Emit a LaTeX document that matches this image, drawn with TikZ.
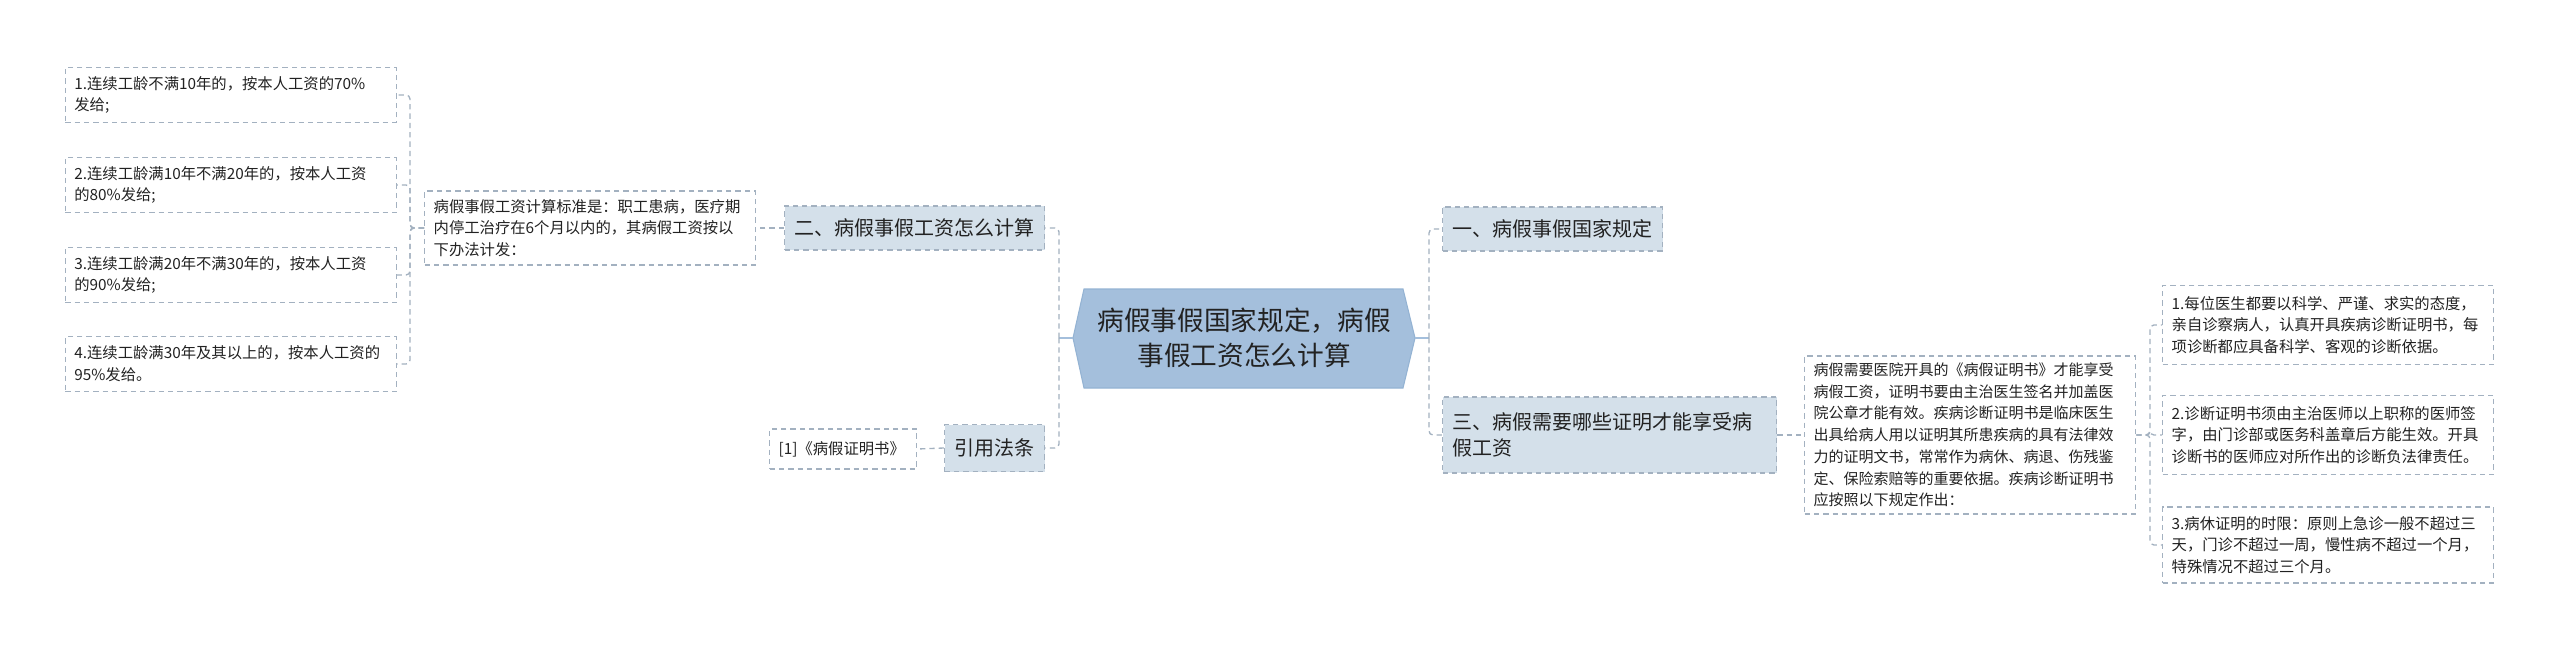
\documentclass[tikz,border=0pt]{standalone}
\usepackage{fontspec}
\setmainfont{Noto Sans CJK SC}
\usepackage{tikz}

\definecolor{lineC}{HTML}{A3B1C0}
\definecolor{topicC}{HTML}{D4E0EA}
\definecolor{hubC}{HTML}{A4BFDC}
\definecolor{hubEdge}{HTML}{94B3D3}
\definecolor{txtC}{HTML}{222222}

\begin{document}
\begin{tikzpicture}[x=0.75pt,y=-0.75pt,
    leaf/.style={draw=lineC,line width=1pt,dash pattern=on 4pt off 3pt,fill=white,text=txtC,
        font=\fontsize{11.5}{16.3}\selectfont,align=left,inner xsep=6.75pt,inner ysep=0pt,
        text width=234.75pt,minimum height=41.25pt,anchor=west},
    topic/.style={draw=lineC,line width=1pt,dash pattern=on 4pt off 3pt,fill=topicC,text=txtC,
        font=\fontsize{15}{19.5}\selectfont,align=left,inner xsep=7.5pt,inner ysep=0pt,
        minimum height=33pt,anchor=west},
    link/.style={draw=lineC,line width=1pt,dash pattern=on 4pt off 3pt,rounded corners=3pt},
    hubline/.style={draw=hubC,line width=1.5pt}]

    % Fondo
    \fill[white] (0,0) rectangle (2560,649);
    \useasboundingbox (0,0) rectangle (2560,649);

    % Tema central
    \filldraw[fill=hubC,draw=hubEdge,line width=0.8pt]
        (1073,338) -- (1084,289) -- (1403,289) -- (1415,338) -- (1403,388) -- (1084,388) -- cycle;
    \node[text=txtC,font=\fontsize{20}{26.25}\selectfont,align=center,
        minimum width=256.5pt,inner sep=0pt,outer sep=0pt] (C) at (1244,338)
        {病假事假国家规定，病假\\事假工资怎么计算};

    % Rama izquierda
    \node[topic] (N2) at (784,228) {二、病假事假工资怎么计算};
    \node[topic,minimum height=35.25pt] (N4) at (944,448) {引用法条};
    \node[leaf,text width=96.75pt,minimum height=30pt] (Q) at (769,449)
        {[1]《病假证明书》};
    \node[leaf,minimum height=55.5pt] (M) at (424,228)
        {病假事假工资计算标准是：职工患病，医疗期\\内停工治疗在6个月以内的，其病假工资按以\\下办法计发：};

    \node[leaf,anchor=east] (L1) at (397,95)
        {1.连续工龄不满10年的，按本人工资的70\%\\发给;};
    \node[leaf,anchor=east] (L2) at (397,185)
        {2.连续工龄满10年不满20年的，按本人工资\\的80\%发给;};
    \node[leaf,anchor=east] (L3) at (397,275)
        {3.连续工龄满20年不满30年的，按本人工资\\的90\%发给;};
    \node[leaf,anchor=east] (L4) at (397,364)
        {4.连续工龄满30年及其以上的，按本人工资的\\95\%发给。};

    % Rama derecha
    \node[topic] (N1) at (1442,229) {一、病假事假国家规定};
    \node[topic,text width=235.5pt,minimum height=57pt] (N3) at (1442,435)
        {三、病假需要哪些证明才能享受病\\假工资};
    \node[leaf,font=\fontsize{11.25}{16.3}\selectfont,minimum height=118.5pt] (R) at (1804,435)
        {病假需要医院开具的《病假证明书》才能享受\\病假工资，证明书要由主治医生签名并加盖医\\院公章才能有效。疾病诊断证明书是临床医生\\出具给病人用以证明其所患疾病的具有法律效\\力的证明文书，常常作为病休、病退、伤残鉴\\定、保险索赔等的重要依据。疾病诊断证明书\\应按照以下规定作出：};

    \node[leaf,minimum height=59.25pt] (R1) at (2162,325)
        {1.每位医生都要以科学、严谨、求实的态度，\\亲自诊察病人，认真开具疾病诊断证明书，每\\项诊断都应具备科学、客观的诊断依据。};
    \node[leaf,minimum height=59.25pt] (R2) at (2162,435)
        {2.诊断证明书须由主治医师以上职称的医师签\\字，由门诊部或医务科盖章后方能生效。开具\\诊断书的医师应对所作出的诊断负法律责任。};
    \node[leaf,minimum height=57pt] (R3) at (2162,545)
        {3.病休证明的时限：原则上急诊一般不超过三\\天，门诊不超过一周，慢性病不超过一个月，\\特殊情况不超过三个月。};

    % Conectores
    \coordinate (hl) at (1059,338);
    \coordinate (hr) at (1429,338);
    \coordinate (ml) at (410,228);
    \coordinate (rr) at (2150,435);

    \draw[hubline] (C.west) -- (hl);
    \draw[hubline] (C.east) -- (hr);
    \draw[link] (hl) |- (N2.east);
    \draw[link] (hl) |- (N4.east);
    \draw[link] (hr) |- (N1.west);
    \draw[link] (hr) |- (N3.west);

    \draw[link] (N2.west) -- (M.east);
    \draw[link] (N4.west) -- (Q.east);
    \draw[link] (N3.east) -- (R.west);

    \foreach \k in {L1,L2,L3,L4}
        \draw[link] (M.west) -- (ml) |- (\k.east);
    \foreach \k in {R1,R2,R3}
        \draw[link] (R.east) -- (rr) |- (\k.west);

\end{tikzpicture}
\end{document}
